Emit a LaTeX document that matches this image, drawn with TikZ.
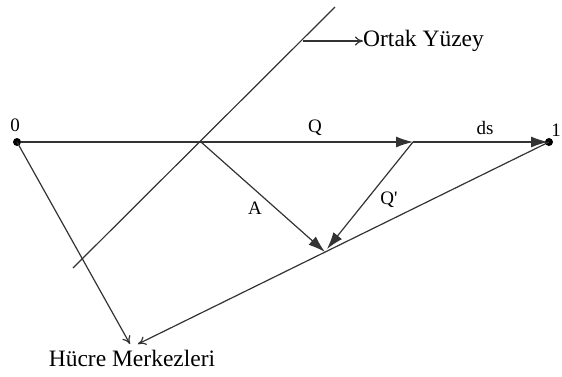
\documentclass[tikz,border=0pt]{standalone}
\usepackage{fontspec}
\setmainfont{Liberation Serif}
\usetikzlibrary{arrows.meta}
\begin{document}
\begin{tikzpicture}[x=1pt,y=-1pt,
  ln/.style={draw=black!80,line width=1.2pt},
  big/.style={-{Latex[length=17pt,width=11pt]}},
  open/.style={-{To[length=8pt,width=9pt]}},
  lbl/.style={font=\fontsize{19}{19}\selectfont,inner sep=0pt},
  biglbl/.style={font=\fontsize{23.5}{23.5}\selectfont,inner sep=0pt},
  dot/.style={circle,fill=black,inner sep=0pt,minimum size=8pt}]
\useasboundingbox (0,0) rectangle (562,376);
\node[dot] (p0) at (17,142) {};
\node[dot] (p1) at (549,142) {};
\coordinate (x) at (201,142);
\coordinate (qe) at (413,142);
\coordinate (m) at (325,252);
\coordinate (mq) at (327,249);
\coordinate (sb) at (73,268);
\coordinate (st) at (335,7);
\coordinate (os) at (303,41);
\node[biglbl,anchor=west] (ortak) at (363,41) {Ortak Yüzey};
\node[biglbl] (hucre) at (132,358) {Hücre Merkezleri};
\coordinate (h1) at (130,344);
\coordinate (h2) at (138,344);
\node[lbl] (l0) at (15,125) {0};
\node[lbl] (l1) at (556,130) {1};
\node[lbl] (lq) at (315,128) {Q};
\node[lbl] (lds) at (485,128) {ds};
\node[lbl] (la) at (255,208) {A};
\node[lbl] (lqp) at (389,200) {Q\textquotesingle};
% surface
\draw[ln] (sb) -- (st);
\draw[ln,open] (os) -- (ortak.west);
% horizontal
\draw[ln] (p0) -- (x);
\draw[ln,big] (x) -- (qe);
\draw[ln,big,shorten >=1pt] (qe) -- (p1.center);
\draw[ln,big] (x) -- (m);
\draw[ln,big] (qe) -- (mq);
% to cell centres
\draw[ln,open] (p0.center) -- (h1);
\draw[ln,open] (p1.center) -- (h2);
\end{tikzpicture}
\end{document}
